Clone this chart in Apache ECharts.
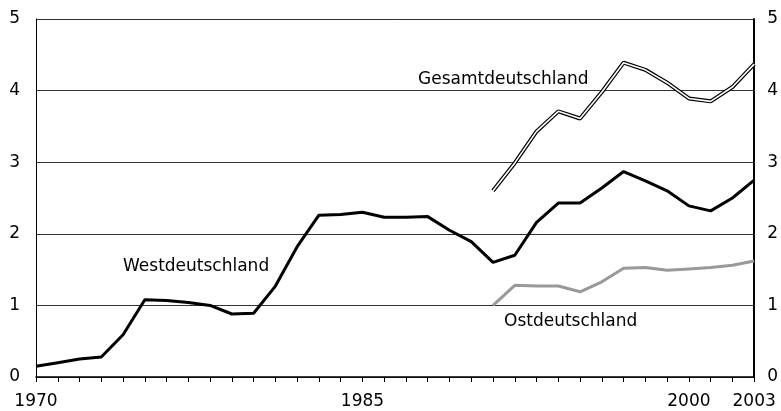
<!DOCTYPE html>
<html><head><meta charset="utf-8">
<script src="https://cdn.jsdelivr.net/npm/echarts@6/dist/echarts.min.js"></script>
<style>html,body{margin:0;padding:0;background:#fff}#c{width:781px;height:411px}</style>
</head><body><div id="c"></div>
<script>
var years = [];
for (var y = 1970; y <= 2003; y++) years.push(y);
var yearsEast = years.slice(21);
var west = [0.15,0.20,0.25,0.28,0.59,1.08,1.07,1.04,1.00,0.88,0.89,1.27,1.82,2.26,2.27,2.30,2.23,2.23,2.24,2.05,1.89,1.60,1.70,2.16,2.43,2.43,2.64,2.87,2.74,2.60,2.39,2.32,2.50,2.75];
var gesamt = [2.60,2.99,3.43,3.71,3.61,3.98,4.39,4.29,4.11,3.89,3.85,4.05,4.37];
var ost = [1.00,1.28,1.27,1.27,1.19,1.33,1.52,1.53,1.49,1.51,1.53,1.56,1.62];
var xLabels = [1970,1985,2000,2003];
var seriesNames = ['Westdeutschland','Gesamtdeutschland','Ostdeutschland'];

function pairs(xs, vs){ return vs.map(function(v,i){return [xs[i], v];}); }
var font = 'DejaVu Sans, sans-serif';
var chart = echarts.init(document.getElementById('c'));
chart.setOption({
  animation:false,
  grid:{left:36,right:24,top:19,bottom:34},
  xAxis:{type:'value',min:1970,max:2003,interval:1,
    axisLine:{show:true,onZero:false,lineStyle:{color:'#000',width:1.5}},
    axisTick:{show:true,length:5,inside:false,lineStyle:{color:'#000',width:1}},
    splitLine:{show:false},
    axisLabel:{margin:16,color:'#000',fontSize:17,fontFamily:font,
      formatter:function(v){return xLabels.indexOf(v)>=0?String(v):'';},showMinLabel:true,showMaxLabel:true}
  },
  yAxis:[{type:'value',min:0,max:5,interval:1,position:'left',
    axisLine:{show:true,lineStyle:{color:'#000',width:1}},
    axisTick:{show:false},
    splitLine:{show:true,lineStyle:{color:'#333',width:1}},
    axisLabel:{margin:16,color:'#000',fontSize:17,fontFamily:font}
  },{type:'value',min:0,max:5,interval:1,position:'right',
    axisLine:{show:true,lineStyle:{color:'#000',width:2}},
    axisTick:{show:false},
    splitLine:{show:false},
    axisLabel:{margin:13,color:'#000',fontSize:17,fontFamily:font}
  }],
  series:[
    {name:seriesNames[0],type:'line',data:pairs(years,west),showSymbol:false,symbol:'none',
      lineStyle:{color:'#000',width:3},z:3},
    {name:seriesNames[2],type:'line',data:pairs(yearsEast,ost),showSymbol:false,symbol:'none',
      lineStyle:{color:'#999',width:3},z:3},
    {name:seriesNames[1]+'_outline',type:'line',data:pairs(yearsEast,gesamt),showSymbol:false,symbol:'none',
      lineStyle:{color:'#000',width:4},z:3},
    {name:seriesNames[1],type:'line',data:pairs(yearsEast,gesamt),showSymbol:false,symbol:'none',
      lineStyle:{color:'#fff',width:1.6},z:4}
  ],
  graphic:[
    {type:'text',left:123,top:258,style:{text:seriesNames[0],fill:'#000',font:'17px '+font}},
    {type:'text',left:418,top:71,style:{text:seriesNames[1],fill:'#000',font:'17px '+font}},
    {type:'text',left:504,top:313,style:{text:seriesNames[2],fill:'#000',font:'17px '+font}}
  ]
});
</script></body></html>
